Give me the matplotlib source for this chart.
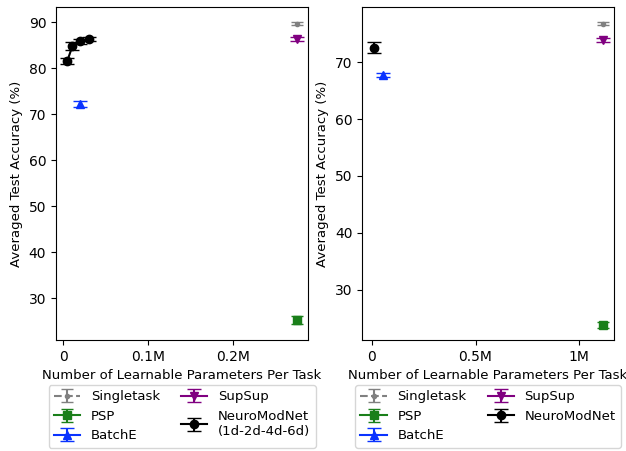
import matplotlib
matplotlib.use("Agg")
import matplotlib.pyplot as plt
from matplotlib.ticker import FuncFormatter

plt.rcParams["font.size"] = 9.5
plt.rcParams["xtick.labelsize"] = 10
plt.rcParams["ytick.labelsize"] = 10

# left panel (small net)
l_single_x, l_single_y, l_single_e = [0.275e6], [89.7], [0.3]
l_psp_x, l_psp_y, l_psp_e = [0.275e6], [25.2], [0.9]
l_batche_x, l_batche_y, l_batche_e = [0.02e6], [72.3], [0.7]
l_supsup_x, l_supsup_y, l_supsup_e = [0.275e6], [86.4], [0.4]
l_nmn_x = [0.005e6, 0.011e6, 0.020e6, 0.030e6]
l_nmn_y = [81.6, 84.8, 85.9, 86.4]
l_nmn_e = [0.6, 0.9, 0.5, 0.4]

# right panel (large net)
r_single_x, r_single_y, r_single_e = [1.117e6], [76.8], [0.25]
r_psp_x, r_psp_y, r_psp_e = [1.117e6], [23.7], [0.5]
r_batche_x, r_batche_y, r_batche_e = [0.053e6], [67.8], [0.35]
r_supsup_x, r_supsup_y, r_supsup_e = [1.117e6], [74.0], [0.35]
r_nmn_x, r_nmn_y, r_nmn_e = [0.008e6], [72.6], [0.9]


def fmt(v, pos):
    if v == 0:
        return "0"
    return "%gM" % (v / 1e6)


def panel(ax, d, nmn_label, xlim, ylim, xticks):
    sx, sy, se, px, py, pe, bx, by, be, ux, uy, ue, nx, ny, ne = d
    ax.errorbar(sx, sy, yerr=se, color="gray", marker=".", ls="--", capsize=4, label="Singletask")
    ax.errorbar(px, py, yerr=pe, color="#1a7f1a", marker="s", ls="-", capsize=4, label="PSP")
    ax.errorbar(bx, by, yerr=be, color="#0a33ff", marker="^", ls="-", capsize=5, label="BatchE")
    ax.errorbar(ux, uy, yerr=ue, color="purple", marker="v", ls="-", capsize=5, label="SupSup")
    ax.errorbar(nx, ny, yerr=ne, color="black", marker="o", ls="-", capsize=5, label=nmn_label)
    ax.set_xlim(xlim)
    ax.set_ylim(ylim)
    ax.set_xticks(xticks)
    ax.xaxis.set_major_formatter(FuncFormatter(fmt))
    ax.set_xlabel("Number of Learnable Parameters Per Task")
    ax.set_ylabel("Averaged Test Accuracy (%)")
    ax.legend(loc="upper center", bbox_to_anchor=(0.5, -0.115), ncol=2,
              handlelength=2.0, columnspacing=1.6)


fig, (ax1, ax2) = plt.subplots(1, 2, figsize=(6.26, 4.51), dpi=100)
fig.subplots_adjust(left=0.0895, right=0.981, top=0.984, bottom=0.246, wspace=0.214)

panel(ax1, (l_single_x, l_single_y, l_single_e, l_psp_x, l_psp_y, l_psp_e,
            l_batche_x, l_batche_y, l_batche_e, l_supsup_x, l_supsup_y, l_supsup_e,
            l_nmn_x, l_nmn_y, l_nmn_e),
      "NeuroModNet\n(1d-2d-4d-6d)", (-0.0082e6, 0.288e6), (20.9, 93.3), [0, 0.1e6, 0.2e6])
panel(ax2, (r_single_x, r_single_y, r_single_e, r_psp_x, r_psp_y, r_psp_e,
            r_batche_x, r_batche_y, r_batche_e, r_supsup_x, r_supsup_y, r_supsup_e,
            r_nmn_x, r_nmn_y, r_nmn_e),
      "NeuroModNet", (-0.048e6, 1.169e6), (21.1, 79.7), [0, 0.5e6, 1e6])

fig.savefig("out.png", dpi=100)
